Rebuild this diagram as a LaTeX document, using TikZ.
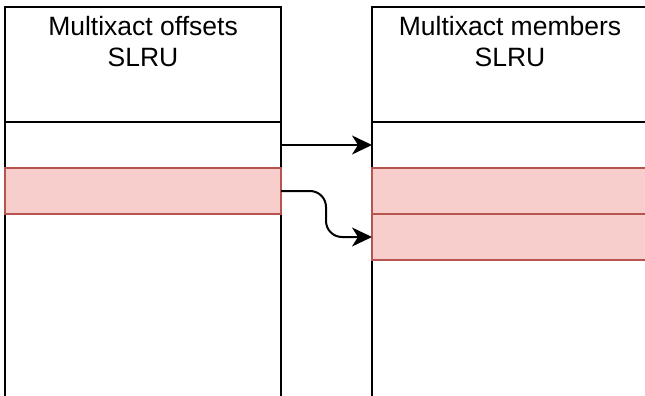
\documentclass[tikz,border=0pt]{standalone}
\usepackage{fontspec}
\setmainfont{Liberation Sans}
\usetikzlibrary{positioning,arrows.meta}
\definecolor{cellred}{HTML}{F8CECC}
\definecolor{lined}{HTML}{B85450}
\begin{document}
\begin{tikzpicture}[column/.style={draw=black,line width=2pt,outer sep=0pt,inner sep=0pt,minimum width=276pt,minimum height=450pt},
  cell/.style={draw=black,line width=2pt,outer sep=0pt,inner sep=0pt,minimum width=276pt,minimum height=46pt},
  redcell/.style={cell,draw=lined,fill=cellred},
  title/.style={align=center,inner sep=0pt,font=\fontsize{26.5}{31}\selectfont},
  link/.style={line width=2pt,-{Stealth[length=20pt,width=19pt,inset=6pt]}}]
\useasboundingbox (0,0) rectangle (645pt,-396pt);
\clip (0,0) rectangle (645pt,-396pt);
\node[column,anchor=north west] (off) at (5pt,-7pt) {};
\node[column,anchor=north west] (mem) at (372pt,-7pt) {};
\node[title,below=9.5pt of off.north] {Multixact offsets\\SLRU};
\node[title,below=9.5pt of mem.north] {Multixact members\\SLRU};
\node[cell,below=115pt of off.north] (offa) {};
\node[redcell,below=0pt of offa] (offb) {};
\node[cell,below=115pt of mem.north] (mema) {};
\node[redcell,below=0pt of mema] (memb) {};
\node[redcell,below=0pt of memb] (memc) {};
\draw[link] (offa.east) -- (mema.west);
\draw[link,rounded corners=16pt] (offb.east) -- ++(45pt,0) |- (memc.west);
\end{tikzpicture}
\end{document}
